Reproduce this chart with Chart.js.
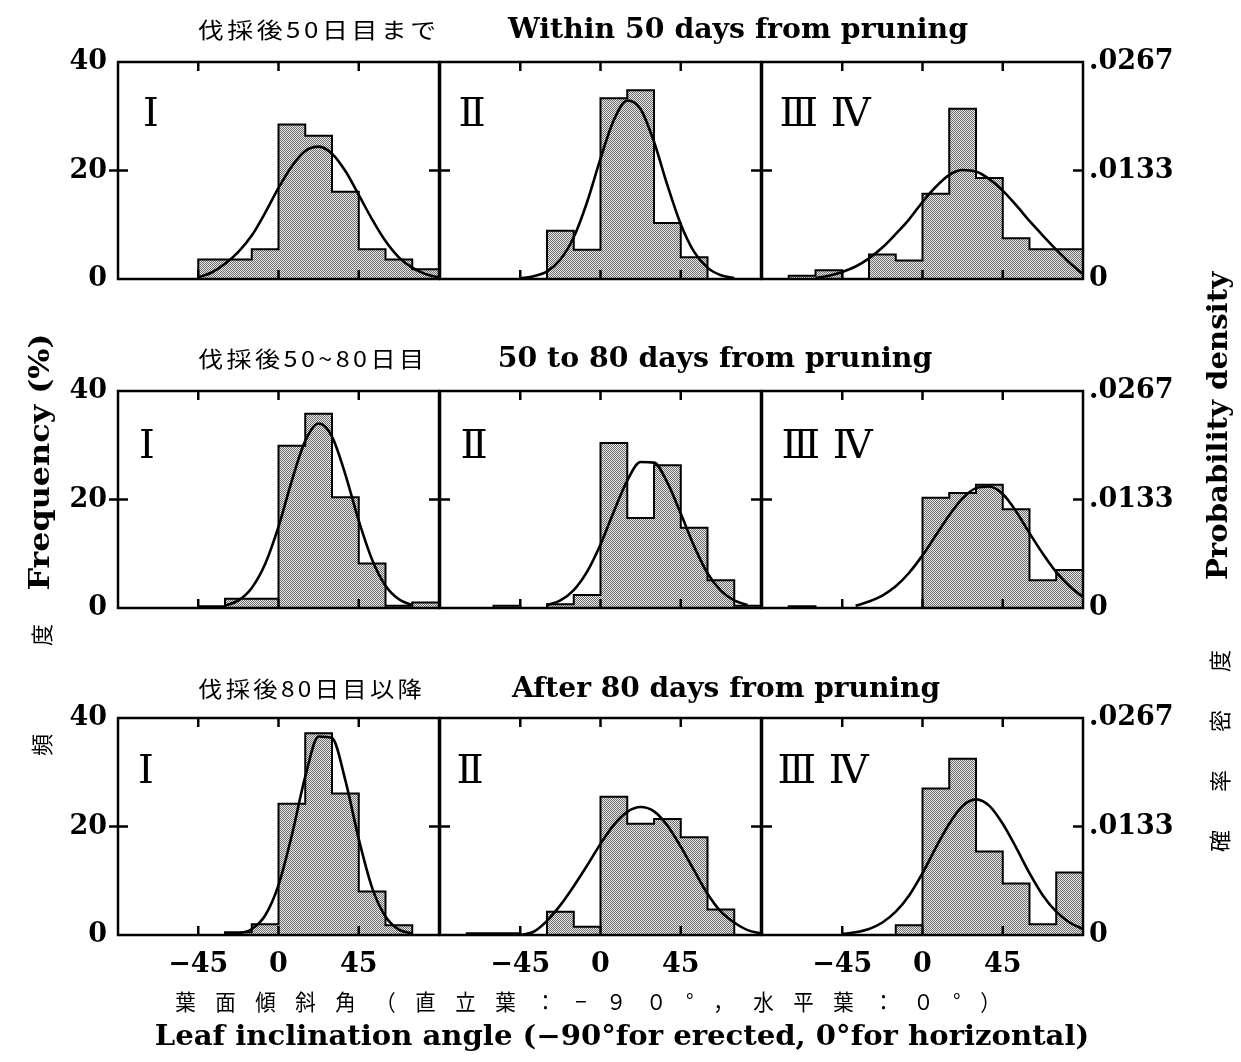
<!DOCTYPE html>
<html><head><meta charset="utf-8">
<script src="https://cdn.jsdelivr.net/npm/chart.js@4.4.1/dist/chart.umd.min.js"></script>
<style>
html,body{margin:0;padding:0;background:#fff;}
body{width:1241px;height:1062px;position:relative;overflow:hidden;}
canvas.p{position:absolute;left:0;top:0;}
.t{position:absolute;white-space:nowrap;color:#000;line-height:1;transform-origin:50% 50%;}
.en{font-family:"DejaVu Serif",serif;font-weight:bold;}
.jp{font-family:"Noto Sans CJK JP",sans-serif;font-weight:400;}
.rn{font-family:"DejaVu Serif","Noto Sans CJK JP",serif;font-weight:normal;}
</style></head><body>
<script>
// ---------- data ----------
const binCenters = [-82.5,-67.5,-52.5,-37.5,-22.5,-7.5,7.5,22.5,37.5,52.5,67.5,82.5];
const binEdges   = [-90,-75,-60,-45,-30,-15,0,15,30,45,60,75,90];
const curveAngles = [-90,-82.5,-75,-67.5,-60,-52.5,-45,-37.5,-30,-22.5,-15,-7.5,0,7.5,15,22.5,30,37.5,45,52.5,60,67.5,75,82.5,90];
const xTickValues = [-45,0,45];
const freqTicks = [0,20,40];
const densityTicks = [0,0.0133,0.0267];

const rowTitlesJP = ['伐採後50日目まで','伐採後50~80日目','伐採後80日目以降'];
const rowTitlesEN = ['Within 50 days from pruning','50 to 80 days from pruning','After 80 days from pruning'];
const panelNames = ['Ⅰ','Ⅱ','Ⅲ Ⅳ'];

// frequency (%) per 15-degree bin
const freq50_I      = [0,0,0,3.6,3.6,5.5,28.5,26.4,16.1,5.5,3.6,1.8];
const freq50_II     = [0,0,0,0,8.9,5.4,33.3,34.8,10.3,4.0,0,0];
const freq50_III_IV = [0,0.6,1.6,0,4.5,3.4,15.7,31.4,18.6,7.5,5.5,5.5];
const freq5080_I      = [0,0,0,0.3,1.7,1.7,29.9,35.8,20.4,8.2,0.4,1.0];
const freq5080_II     = [0,0,0.4,0,0.7,2.4,30.4,16.6,26.3,14.8,5.1,0.4];
const freq5080_III_IV = [0,0.3,0,0,0,0,20.3,21.2,22.7,18.2,5.1,7.0];
const freq80_I      = [0,0,0,0,0.5,2.0,24.2,37.2,26.1,8.0,1.8,0];
const freq80_II     = [0,0.3,0.3,0,4.3,1.5,25.5,20.5,21.4,18.0,4.7,0];
const freq80_III_IV = [0,0,0,0,0,1.8,27.0,32.5,15.4,9.5,2.0,11.5];

// fitted curve (in % units of the left axis), at curveAngles
const curve50_I      = [null,null,null,null,null,null,0.3,1.2,2.8,5.0,8.0,12.2,16.8,20.8,23.6,24.4,23.1,19.9,15.5,11.0,7.0,4.0,2.1,0.9,0.3];
const curve50_II     = [null,null,null,null,null,null,0.1,0.5,1.4,3.6,7.7,14.2,22.2,29.3,32.9,31.3,25.3,17.3,10.1,5.0,2.1,0.7,0.2,null,null];
const curve50_III_IV = [null,null,null,null,0.2,0.6,1.3,2.3,3.8,5.8,8.3,11.0,14.2,17.0,19.2,20.1,19.8,18.4,16.3,13.6,10.7,8.0,5.4,3.0,0.9];
const curve5080_I      = [null,null,null,null,null,null,null,null,0.4,1.4,3.7,8.1,15.0,23.5,30.8,34.0,31.6,24.6,16.1,8.9,4.1,1.6,0.5,null,null];
const curve5080_II     = [null,null,null,null,null,null,null,null,0.5,1.4,3.3,6.7,11.7,17.8,23.5,26.9,26.8,23.1,17.4,11.4,6.4,3.2,1.4,0.5,null];
const curve5080_III_IV = [null,null,null,null,null,null,null,0.4,1.2,2.3,4.0,6.5,9.7,13.4,17.1,20.2,22.1,22.4,21.0,17.8,13.8,10.0,6.6,4.0,2.0];
const curve80_I      = [null,null,null,null,null,null,null,null,0.1,0.3,1.1,3.6,9.2,18.4,29.2,36.6,36.3,28.5,17.7,8.7,3.4,1.0,0.3,null,null];
const curve80_II     = [null,null,null,null,null,null,0.0,0.6,2.6,5.5,9.0,12.8,16.8,20.3,22.7,23.6,22.8,20.2,16.3,11.9,7.6,4.3,2.3,0.9,0.3];
const curve80_III_IV = [null,null,null,null,null,null,0.2,0.5,1.1,2.3,4.3,7.3,11.4,16.1,20.5,23.8,25.0,23.8,20.5,16.1,11.4,7.3,4.3,2.3,1.1];

const freqGrid  = [[freq50_I,freq50_II,freq50_III_IV],[freq5080_I,freq5080_II,freq5080_III_IV],[freq80_I,freq80_II,freq80_III_IV]];
const curveGrid = [[curve50_I,curve50_II,curve50_III_IV],[curve5080_I,curve5080_II,curve5080_III_IV],[curve80_I,curve80_II,curve80_III_IV]];

// ---------- layout ----------
const W = 1241, H = 1062;
const colLeft = [118, 440, 762], colWidth = 321;
const rowTop = [62, 391, 718], rowHeight = 217;
const Y_LEFT_W = 60, Y_RIGHT_W = 110, X_H = 50;

function makePattern(){
  const pc = document.createElement('canvas'); pc.width = 2; pc.height = 2;
  const g = pc.getContext('2d');
  g.fillStyle = '#e8e8e8'; g.fillRect(0,0,2,2);
  g.fillStyle = '#6e6e6e'; g.fillRect(0,0,1,1); g.fillRect(1,1,1,1);
  return g.createPattern(pc, 'repeat');
}
const stipple = makePattern();

const framePlugin = {
  id: 'frame',
  afterDatasetsDraw(chart, args, opts){
    const {ctx, chartArea: a, scales} = chart;
    const x = scales.x, y = scales.y;
    ctx.save();
    ctx.strokeStyle = '#000'; ctx.lineWidth = 2.5;
    ctx.strokeRect(a.left, a.top, a.right - a.left, a.bottom - a.top);
    ctx.beginPath();
    for (const v of xTickValues){
      const px = x.getPixelForValue(v);
      ctx.moveTo(px, a.top); ctx.lineTo(px, a.top + 9);
      ctx.moveTo(px, a.bottom); ctx.lineTo(px, a.bottom - 9);
    }
    const py = y.getPixelForValue(freqTicks[1]);
    ctx.moveTo(a.left - (opts.outLeft ? 9 : 0), py); ctx.lineTo(a.left + 10, py);
    ctx.moveTo(a.right - 10, py); ctx.lineTo(a.right, py);
    ctx.stroke();
    ctx.restore();
  }
};

const tickFont = {family: '"DejaVu Serif", serif', weight: 'bold', size: 27};

for (let r = 0; r < 3; r++){
  for (let c = 0; c < 3; c++){
    const cv = document.createElement('canvas');
    cv.width = W; cv.height = H; cv.className = 'p';
    document.body.appendChild(cv);
    const vals = freqGrid[r][c], curve = curveGrid[r][c];
    const left = colLeft[c], top = rowTop[r];
    const right = left + colWidth, bottom = top + rowHeight;
    const showX = r === 2, showY = c === 0, showY2 = c === 2;
    const pad = {
      left: left - (showY ? Y_LEFT_W : 0),
      right: W - right - (showY2 ? Y_RIGHT_W : 0),
      top: top,
      bottom: H - bottom - (showX ? X_H : 0)
    };
    new Chart(cv, {
      type: 'bar',
      data: {
        datasets: [
          { type: 'line', label: 'fit', order: 0,
            data: curveAngles.map((a, i) => ({x: a, y: curve[i]})),
            borderColor: '#000', borderWidth: 2.6, pointRadius: 0, fill: false,
            cubicInterpolationMode: 'monotone', spanGaps: false },
          { type: 'line', label: 'outline', order: 1,
            data: binEdges.map((e, i) => ({x: e, y: vals[Math.min(i, vals.length - 1)]})),
            borderColor: '#000', borderWidth: 2, pointRadius: 0, fill: false, stepped: 'before' },
          { type: 'bar', label: 'freq', order: 2,
            data: binCenters.map((a, i) => ({x: a, y: vals[i]})),
            backgroundColor: stipple, borderWidth: 0,
            barPercentage: 1.0, categoryPercentage: 1.0 }
        ]
      },
      options: {
        responsive: false, animation: false, devicePixelRatio: 1,
        layout: {padding: pad},
        plugins: {legend: {display: false}, tooltip: {enabled: false}, frame: {outLeft: c === 0}},
        scales: {
          x: { type: 'linear', min: -90, max: 90, offset: false, position: 'bottom',
               display: showX,
               grid: {display: false, drawTicks: false}, border: {display: false},
               afterBuildTicks: s => { s.ticks = xTickValues.map(v => ({value: v})); },
               afterFit: s => { if (showX) s.height = X_H; },
               ticks: { font: tickFont, color: '#000', padding: 14, maxRotation: 0, autoSkip: false,
                        callback: v => v < 0 ? '−' + Math.abs(v) : String(v) } },
          y: { type: 'linear', min: 0, max: 40, position: 'left',
               display: showY,
               grid: {display: false, drawTicks: false}, border: {display: false},
               afterBuildTicks: s => { s.ticks = freqTicks.map(v => ({value: v})); },
               afterFit: s => { if (showY) s.width = Y_LEFT_W; },
               ticks: { font: tickFont, color: '#000', padding: 11 } },
          y2: { type: 'linear', min: 0, max: densityTicks[2], position: 'right',
               display: showY2,
               grid: {display: false, drawTicks: false}, border: {display: false},
               afterBuildTicks: s => { s.ticks = densityTicks.map(v => ({value: v})); },
               afterFit: s => { if (showY2) s.width = Y_RIGHT_W; },
               ticks: { font: tickFont, color: '#000', padding: 6,
                        callback: v => v === 0 ? '0' : '.' + v.toFixed(4).slice(2) } }
        }
      },
      plugins: [framePlugin]
    });
  }
}

// ---------- texts ----------
const texts = [];
function addText(txt, cx, cy, cls, size, targetW, opts = {}){
  const d = document.createElement('div');
  d.className = 't ' + cls;
  d.textContent = txt;
  d.style.fontSize = size + 'px';
  d.style.left = cx + 'px'; d.style.top = cy + 'px';
  if (opts.ls) { d.style.letterSpacing = opts.ls + 'px'; d.style.paddingLeft = opts.ls + 'px'; }
  document.body.appendChild(d);
  texts.push({d, targetW, rot: !!opts.rot});
}
const titleY = [28, 357, 687];
const jpX = [317, 311, 310], jpW = [245, 233, 230];
const enX = [738, 715, 726], enW = [460, 434, 428];
for (let r = 0; r < 3; r++){
  addText(rowTitlesJP[r], jpX[r], titleY[r], 'jp', 22, jpW[r], {ls: 3});
  addText(rowTitlesEN[r], enX[r], titleY[r], 'en', 27, enW[r]);
}
const nameX = [[151,472,825],[147,474,827],[146,470,823]];
const nameY = [112, 444, 769];
for (let r = 0; r < 3; r++) for (let c = 0; c < 3; c++)
  addText(panelNames[c], nameX[r][c], nameY[r], 'rn', 40, null);

addText('葉面傾斜角（直立葉：−９０°，水平葉：０°）', 588, 1000, 'jp', 22, 865, {ls: 21});
addText('Leaf inclination angle (−90°for erected, 0°for horizontal)', 622, 1035, 'en', 27, 935);
addText('Frequency (%)', 40, 462, 'en', 28, 257, {rot: true});
addText('頻度', 40, 690, 'jp', 22, null, {rot: true, ls: 88});
addText('Probability density', 1218, 426, 'en', 28, 308, {rot: true});
addText('確率密度', 1218, 751, 'jp', 22, null, {rot: true, ls: 38});

function fitTexts(){
  for (const t of texts){
    let k = 1;
    if (t.targetW){
      const w = t.d.offsetWidth;
      k = Math.max(0.7, Math.min(1.35, t.targetW / w));
    }
    t.d.style.transform = 'translate(-50%,-50%)' + (t.rot ? ' rotate(-90deg)' : '') + ' scaleX(' + k.toFixed(3) + ')';
  }
}
fitTexts();
if (document.fonts && document.fonts.ready) document.fonts.ready.then(fitTexts);
</script>
</body></html>
